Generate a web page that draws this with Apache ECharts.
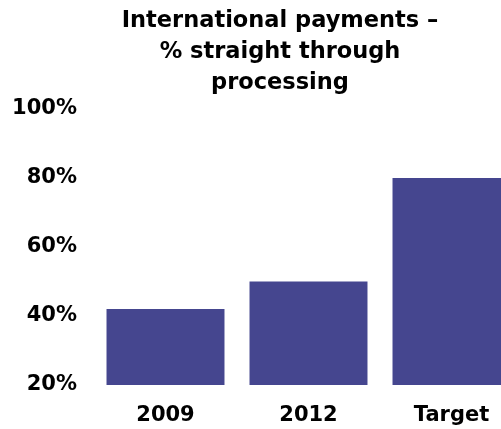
<!DOCTYPE html>
<html>
<head>
<meta charset="utf-8">
<script src="https://cdn.jsdelivr.net/npm/echarts@6/dist/echarts.min.js"></script>
<style>
  html, body { margin: 0; padding: 0; background: #ffffff; }
  #chart { width: 501px; height: 429px; }
</style>
</head>
<body>
<div id="chart"></div>
<script>
// Share of international payments handled by straight through processing
const categories = ['2009', '2012', 'Target'];
const stpShare = [42, 50, 80];
const yTicks = { min: 20, max: 100, step: 20 };

const FONT = '"DejaVu Sans", "Liberation Sans", Arial, sans-serif';
const BAR_COLOR = '#45468f';

const chart = echarts.init(document.getElementById('chart'), null, { renderer: 'canvas' });

chart.setOption({
  animation: false,
  backgroundColor: '#ffffff',
  title: {
    text: 'International payments –\n% straight through\nprocessing',
    left: 280,
    top: 6,
    padding: 0,
    textAlign: 'center',
    textStyle: {
      fontFamily: FONT,
      fontWeight: 'bold',
      fontSize: 22.5,
      lineHeight: 31,
      color: '#000000'
    }
  },
  // the plot runs a little past the right edge, so the last bar is cut off
  grid: {
    left: 94,
    width: 429,
    top: 109,
    bottom: 44,
    containLabel: false,
    outerBoundsMode: 'none'
  },
  xAxis: {
    type: 'category',
    data: categories,
    axisLine: { show: false },
    axisTick: { show: false },
    axisLabel: {
      margin: 20,
      fontFamily: FONT,
      fontWeight: 'bold',
      fontSize: 21,
      color: '#000000'
    }
  },
  yAxis: {
    type: 'value',
    min: yTicks.min,
    max: yTicks.max,
    interval: yTicks.step,
    axisLine: { show: false },
    axisTick: { show: false },
    splitLine: { show: false },
    axisLabel: {
      margin: 17,
      padding: [4, 0, 0, 0],
      fontFamily: FONT,
      fontWeight: 'bold',
      fontSize: 21,
      color: '#000000',
      formatter: v => v + '%'
    }
  },
  series: [{
    type: 'bar',
    data: stpShare,
    barCategoryGap: '17.5%',
    itemStyle: { color: BAR_COLOR },
    silent: true
  }]
});
</script>
</body>
</html>
